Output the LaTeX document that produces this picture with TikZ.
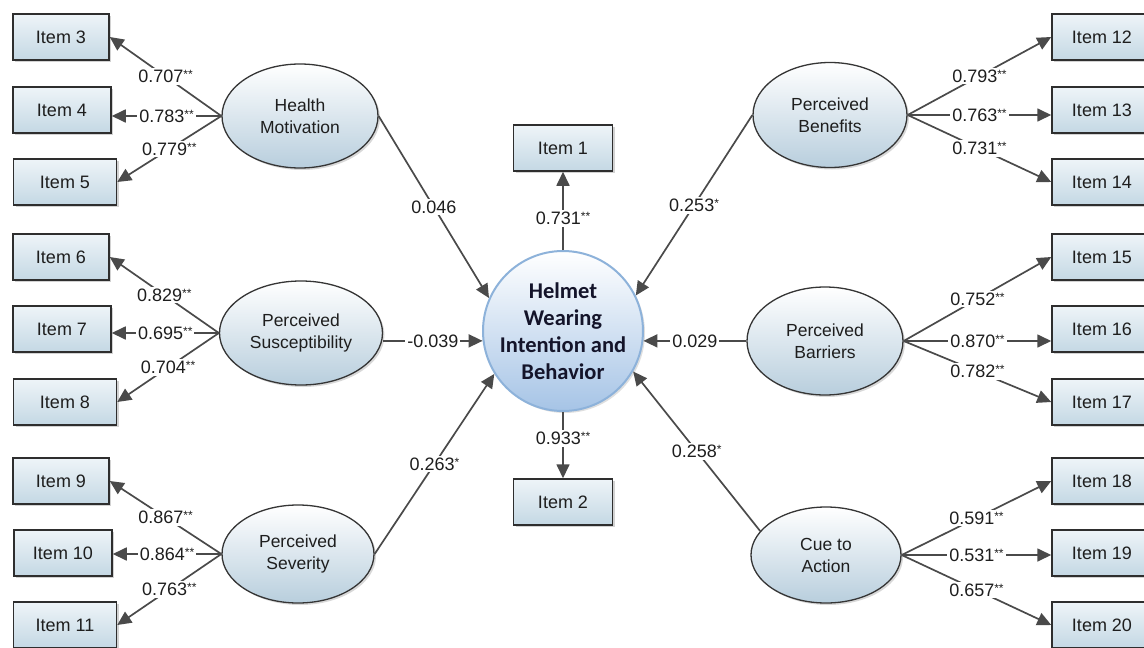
\documentclass[tikz,border=0pt]{standalone}
\usepackage{fontspec}
\setmainfont{Liberation Sans}
\newfontfamily\carl{Carlito}
\usetikzlibrary{arrows.meta,shapes.geometric,shadows}
\definecolor{linec}{HTML}{4A4A4A}
\definecolor{boxborder}{HTML}{2E2E2E}
\definecolor{boxtop}{HTML}{EEF4F8}
\definecolor{boxbot}{HTML}{C4D8E4}
\definecolor{ellborder}{HTML}{353535}
\definecolor{ellbot}{HTML}{B8CEDD}
\definecolor{cbot}{HTML}{A6C4E6}
\definecolor{cborder}{HTML}{8DB2DA}
\definecolor{txt}{HTML}{1E1E1E}
\definecolor{ctxt}{HTML}{14142A}
\newcommand\twostar{\raisebox{4pt}{\fontsize{12}{12}\selectfont **}}
\newcommand\onestar{\raisebox{4pt}{\fontsize{12}{12}\selectfont *}}
\begin{document}
\begin{tikzpicture}[x=1pt,y=-1pt,
  itembox/.style={rectangle, draw=boxborder, line width=1.5pt, top color=boxtop, bottom color=boxbot,
    minimum width=97pt, minimum height=46pt, text=txt, font=\fontsize{18}{20}\selectfont,
    drop shadow={shadow xshift=2pt,shadow yshift=-2pt,opacity=0.35}},
  latent/.style={ellipse, draw=ellborder, line width=1.3pt, top color=white, bottom color=ellbot,
    minimum width=156pt, minimum height=104pt, inner sep=0pt, align=center, text=txt,
    font=\fontsize{17.5}{22}\selectfont,
    drop shadow={shadow xshift=2pt,shadow yshift=-2pt,opacity=0.3}},
  central/.style={circle, draw=cborder, line width=2pt, top color=white, bottom color=cbot,
    minimum size=160pt, inner sep=0pt, align=center, text=ctxt,
    font=\carl\bfseries\fontsize{22.5}{27}\selectfont,
    drop shadow={shadow xshift=2pt,shadow yshift=-2pt,opacity=0.25}},
  arr/.style={draw=linec, line width=1.7pt, -{Triangle[length=14pt,width=13pt]}},
  lab/.style={fill=white, inner sep=2pt, text=txt, font=\fontsize{18}{20}\selectfont}]
\useasboundingbox (0,0) rectangle (1144,648);
\clip (0,0) rectangle (1144,648);
\fill[white] (0,0) rectangle (1144,648);

% central construct
\node[central] (c) at (563,331) {Helmet\\Wearing\\Intention and\\Behavior};
\node[itembox, minimum width=99pt] (i1) at (563,148) {Item 1};
\node[itembox, minimum width=99pt] (i2) at (563,502) {Item 2};

% left latent variables
\node[latent] (hm) at (300,116) {Health\\Motivation};
\node[latent, minimum width=163pt] (ps) at (301,333) {Perceived\\Susceptibility};
\node[latent, minimum width=152pt, minimum height=98pt] (psev) at (298,554) {Perceived\\Severity};

% right latent variables
\node[latent, minimum width=154pt, minimum height=105pt] (pb) at (830,115) {Perceived\\Benefits};
\node[latent, minimum height=108pt] (pbar) at (825,341) {Perceived\\Barriers};
\node[latent, minimum width=150pt, minimum height=96pt] (cta) at (826,555) {Cue to\\Action};

% left items
\node[itembox, minimum width=96pt] (i3) at (61,37) {Item 3};
\node[itembox, minimum width=98pt] (i4) at (62,110) {Item 4};
\node[itembox, minimum width=103pt] (i5) at (65,182) {Item 5};
\node[itembox, minimum width=96pt] (i6) at (61,257) {Item 6};
\node[itembox, minimum width=98pt] (i7) at (62,329) {Item 7};
\node[itembox, minimum width=103pt] (i8) at (65,402) {Item 8};
\node[itembox, minimum width=96pt] (i9) at (61,481) {Item 9};
\node[itembox, minimum width=98pt] (i10) at (63,553) {Item 10};
\node[itembox, minimum width=103pt] (i11) at (65,625) {Item 11};

% right items
\node[itembox, minimum width=100pt] (i12) at (1102,37) {Item 12};
\node[itembox, minimum width=100pt] (i13) at (1102,110) {Item 13};
\node[itembox, minimum width=100pt] (i14) at (1102,182) {Item 14};
\node[itembox, minimum width=100pt] (i15) at (1102,257) {Item 15};
\node[itembox, minimum width=100pt] (i16) at (1102,329) {Item 16};
\node[itembox, minimum width=100pt] (i17) at (1102,402) {Item 17};
\node[itembox, minimum width=100pt] (i18) at (1102,481) {Item 18};
\node[itembox, minimum width=100pt] (i19) at (1102,553) {Item 19};
\node[itembox, minimum width=100pt] (i20) at (1102,625) {Item 20};

% left loadings
\draw[arr] (hm.west) -- node[lab]{0.707\twostar} (i3.east);
\draw[arr] (hm.west) -- node[lab]{0.783\twostar} (hm.west -| i4.east);
\draw[arr] (hm.west) -- node[lab]{0.779\twostar} (i5.east);
\draw[arr] (ps.west) -- node[lab]{0.829\twostar} (i6.east);
\draw[arr] (ps.west) -- node[lab]{0.695\twostar} (ps.west -| i7.east);
\draw[arr] (ps.west) -- node[lab]{0.704\twostar} (i8.east);
\draw[arr] (psev.west) -- node[lab]{0.867\twostar} (i9.east);
\draw[arr] (psev.west) -- node[lab]{0.864\twostar} (psev.west -| i10.east);
\draw[arr] (psev.west) -- node[lab]{0.763\twostar} (i11.east);

% right loadings
\draw[arr] (pb.east) -- node[lab]{0.793\twostar} (i12.west);
\draw[arr] (pb.east) -- node[lab]{0.763\twostar} (pb.east -| i13.west);
\draw[arr] (pb.east) -- node[lab]{0.731\twostar} (i14.west);
\draw[arr] (pbar.east) -- node[lab]{0.752\twostar} (i15.west);
\draw[arr] (pbar.east) -- node[lab]{0.870\twostar} (pbar.east -| i16.west);
\draw[arr] (pbar.east) -- node[lab]{0.782\twostar} (i17.west);
\draw[arr] (cta.east) -- node[lab]{0.591\twostar} (i18.west);
\draw[arr] (cta.east) -- node[lab]{0.531\twostar} (cta.east -| i19.west);
\draw[arr] (cta.east) -- node[lab]{0.657\twostar} (i20.west);

% structural paths
\draw[arr] (hm.east) -- node[lab]{0.046} (c.156);
\draw[arr] (ps.east |- c.187) -- node[lab]{-0.039} (c.187);
\draw[arr] (psev.east) -- node[lab]{0.263\onestar} (c.212);
\draw[arr] (pb.west) -- node[lab]{0.253\onestar} (c.26);
\draw[arr] (pbar.west |- c.-7) -- node[lab]{0.029} (c.-7);
\draw[arr] (cta.160) -- node[lab]{0.258\onestar} (c.-30);
\draw[arr] (c.north) -- node[lab,pos=0.4]{0.731\twostar} (i1.south);
\draw[arr] (c.south) -- node[lab,pos=0.4]{0.933\twostar} (i2.north);
\end{tikzpicture}
\end{document}
